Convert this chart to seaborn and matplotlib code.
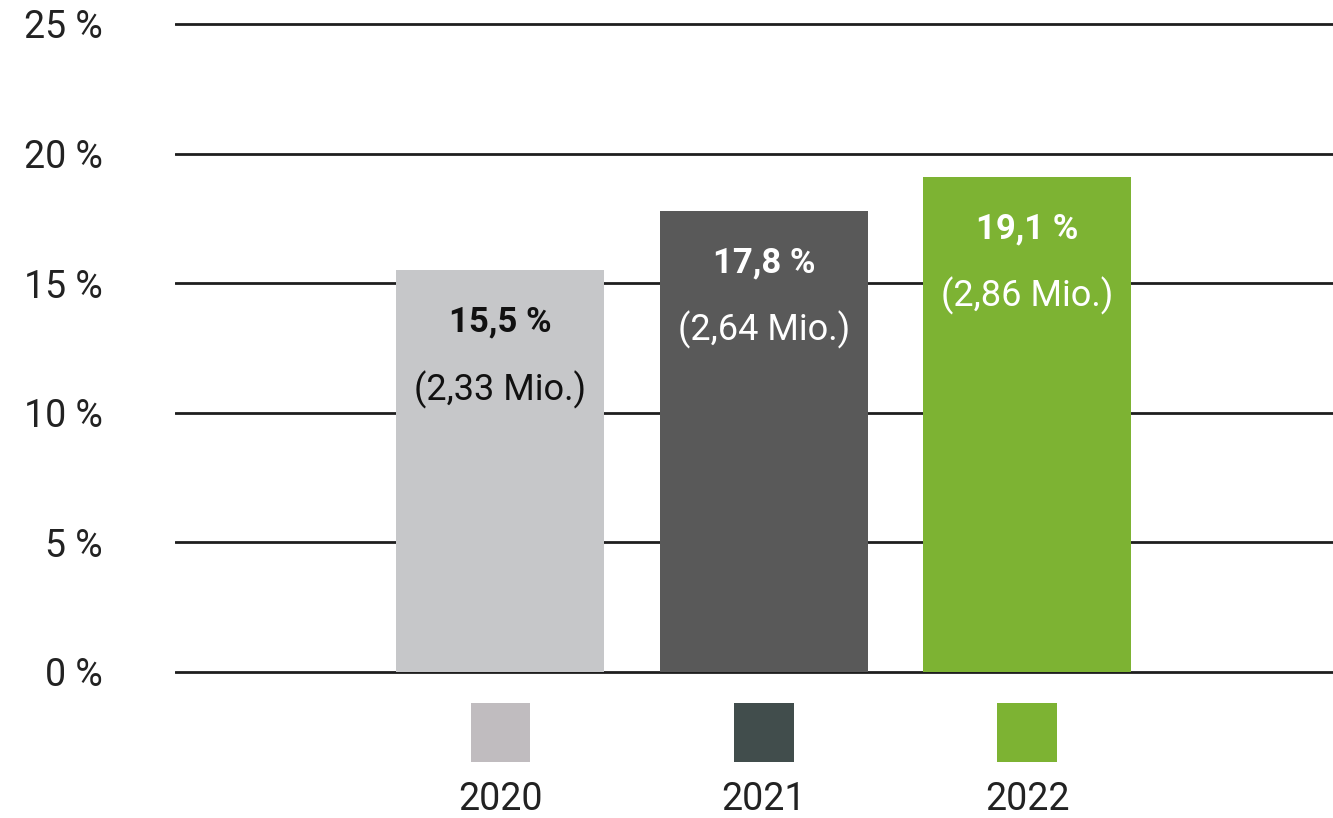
import numpy as np
import pandas as pd
import matplotlib.pyplot as plt
import seaborn as sns

# data
years = ['2020', '2021', '2022']
shares = [15.5, 17.8, 19.1]
share_labels = ['15,5 %', '17,8 %', '19,1 %']
counts = ['(2,33 Mio.)', '(2,64 Mio.)', '(2,86 Mio.)']
yticks = [0, 5, 10, 15, 20, 25]

bar_colors = ['#c6c7c9', '#595959', '#7db333']
legend_colors = ['#c0bcbf', '#414d4c', '#7db333']
text_colors = ['#111111', '#ffffff', '#ffffff']

df = pd.DataFrame({'year': years, 'share': shares})

sns.set_style('white')
plt.rcParams['font.family'] = ['Roboto', 'DejaVu Sans']

fig = plt.figure(figsize=(13.33, 8.18), dpi=100)
ax = fig.add_axes([175 / 1333, 0.169, 1158 / 1333, 0.8112])

sns.barplot(data=df, x='year', y='share', hue='year', palette=bar_colors,
            width=0.79, saturation=1, legend=False, linewidth=0, ax=ax)

ax.set_xlim(-1.235, 3.16)
ax.set_ylim(-0.3, 25.3)
ax.set_yticks(yticks)
ax.set_yticklabels([f'{t} %' for t in yticks], fontsize=27, color='#222222')
ax.tick_params(axis='y', length=0, pad=52)
ax.set_xticks([])
ax.set_xlabel('')
ax.set_ylabel('')
ax.grid(axis='y', color='#1e1e1e', linewidth=2.0)
ax.set_axisbelow(True)
sns.despine(ax=ax, left=True, bottom=True)

# labels inside bars
for i, (v, lab, cnt) in enumerate(zip(shares, share_labels, counts)):
    ax.text(i, v - 2.0, lab, ha='center', va='center', fontsize=25,
            fontweight='bold', color=text_colors[i])
    ax.text(i, v - 4.6, cnt, ha='center', va='center', fontsize=26,
            color=text_colors[i])

# legend row under the axis
trans = ax.get_xaxis_transform()
ax.scatter(range(len(years)), [-0.0794] * len(years), marker='s', s=1850,
           c=legend_colors, transform=trans, clip_on=False, linewidths=0)
for i, y in enumerate(years):
    ax.text(i, -0.181, y, ha='center', va='center', fontsize=27,
            color='#222222', transform=trans)

fig.savefig('out.png', dpi=100)
